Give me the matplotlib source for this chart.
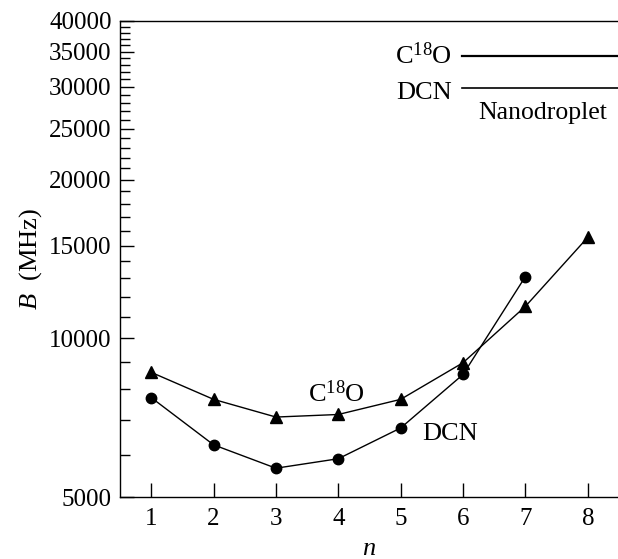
import matplotlib
matplotlib.use("Agg")
import matplotlib.pyplot as plt
import numpy as np
from matplotlib.ticker import FixedLocator, MultipleLocator, NullFormatter

font_size = 18
params = {
    "font.family": "serif",
    "font.serif": ["Liberation Serif", "DejaVu Serif"],
    "mathtext.fontset": "custom",
    "mathtext.rm": "Liberation Serif",
    "mathtext.it": "Liberation Serif:italic",
    "font.size": font_size,
}
matplotlib.rcParams.update(params)

## Rotational constants B (MHz) versus cluster size n
n_c18o = [1, 2, 3, 4, 5, 6, 7, 8]
B_c18o = [8620, 7660, 7090, 7170, 7660, 8990, 11500, 15550]

n_dcn = [1, 2, 3, 4, 5, 6, 7]
B_dcn = [7720, 6280, 5670, 5910, 6760, 8540, 13100]

## Nanodroplet limits
nano_c18o = 34360
nano_dcn = 29900
nano_x = [5.98, 8.5]

y_major = [5000, 10000, 15000, 20000, 25000, 30000, 35000, 40000]

fig = plt.figure(figsize=(6.18, 5.59), dpi=100)
ax = fig.add_axes([120/618, 1-497/559, 499/618, 476/559])

ax.plot(n_c18o, B_c18o, color="black", lw=1.0, marker="^", ms=8, mfc="black", mec="black")
ax.plot(n_dcn, B_dcn, color="black", lw=1.0, marker="o", ms=7.5, mfc="black", mec="black")

ax.plot(nano_x, [nano_c18o, nano_c18o], color="black", lw=1.6, clip_on=False)
ax.plot(nano_x, [nano_dcn, nano_dcn], color="black", lw=1.2, clip_on=False)

ax.set_yscale("log")
ax.set_xlim(0.5, 8.5)
ax.set_ylim(5000, 40000)

ax.yaxis.set_major_locator(FixedLocator(y_major))
ax.yaxis.set_minor_locator(MultipleLocator(1000))
ax.yaxis.set_minor_formatter(NullFormatter())
ax.set_yticklabels([str(v) for v in y_major])
ax.set_xticks(range(1, 9))

ax.tick_params(axis="both", which="major", direction="in", length=10, width=1, labelsize=18)
ax.tick_params(axis="y", which="minor", direction="in", length=7, width=1)
ax.tick_params(axis="x", pad=8)
ax.tick_params(axis="y", pad=6)

ax.spines["right"].set_visible(False)
for s in ["left", "bottom", "top"]:
    ax.spines[s].set_linewidth(1.0)

ax.text(5.82, nano_c18o, r"C$^{18}$O", ha="right", va="center", fontsize=19)
ax.text(5.82, nano_dcn * 0.975, "DCN", ha="right", va="center", fontsize=19)
ax.text(7.28, 26800, "Nanodroplet", ha="center", va="center", fontsize=18.5)

ax.text(3.97, 7850, r"C$^{18}$O", ha="center", va="center", fontsize=19)
ax.text(5.79, 6590, "DCN", ha="center", va="center", fontsize=19)

ax.set_xlabel(r"$n$", fontsize=19, labelpad=6)
ax.set_ylabel(r"$B$  (MHz)", fontsize=19, labelpad=4)

fig.savefig("out.png", dpi=100)
